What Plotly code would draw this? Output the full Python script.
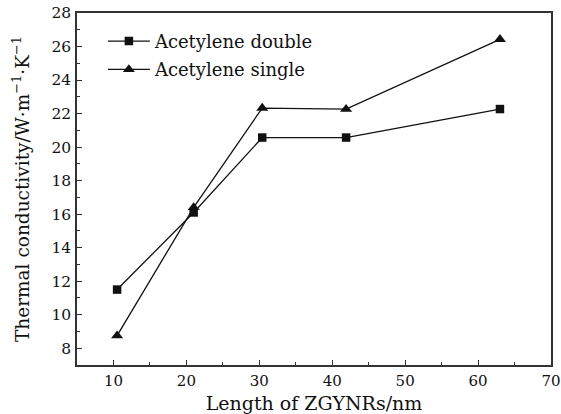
import plotly.graph_objects as go

# Data
length_double = [10.5, 21.0, 30.4, 41.9, 63.0]
kappa_double = [11.5, 16.1, 20.57, 20.57, 22.27]

length_single = [10.5, 21.0, 30.4, 41.9, 63.0]
kappa_single = [8.75, 16.4, 22.33, 22.26, 26.43]

series_names = ["Acetylene double", "Acetylene single"]

x_ticks = [10, 20, 30, 40, 50, 60, 70]
y_ticks = [8, 10, 12, 14, 16, 18, 20, 22, 24, 26, 28]

FONT = "DejaVu Serif"
INK = "#111111"
AXIS = "#333333"

fig = go.Figure()
fig.add_trace(go.Scatter(
    x=length_double, y=kappa_double, name=series_names[0],
    mode="lines+markers", legendgroup="a",
    line=dict(color=INK, width=1.3),
    marker=dict(symbol="square", size=8.5, color=INK),
))
fig.add_trace(go.Scatter(
    x=length_single, y=kappa_single, name=series_names[1],
    mode="lines+markers", legendgroup="b",
    line=dict(color=INK, width=1.3),
    marker=dict(symbol="triangle-up", size=10.5, color=INK),
))

axis_common = dict(
    showline=True, linecolor=AXIS, linewidth=1.5, mirror=True,
    ticks="inside", ticklen=5, tickwidth=1.2, tickcolor=AXIS,
    showgrid=False, zeroline=False, automargin=False,
    ticklabeloverflow="allow",
)

fig.update_xaxes(
    range=[5, 70], tickvals=x_ticks,
    minor=dict(ticks="inside", ticklen=3.5, tickwidth=1.2, tickcolor=AXIS, dtick=5, tick0=0),
    title=dict(text="Length of ZGYNRs/nm", font=dict(family=FONT, size=19, color=INK), standoff=8),
    ticklabelstandoff=1,
    tickfont=dict(family=FONT, size=15, color=INK),
    **axis_common,
)
fig.update_yaxes(
    range=[7, 28], tickvals=y_ticks,
    minor=dict(ticks="inside", ticklen=3.5, tickwidth=1.2, tickcolor=AXIS, dtick=1, tick0=0),
    title=dict(text="Thermal conductivity/W·m<sup>−1</sup>·K<sup>−1</sup>",
               font=dict(family=FONT, size=18.5, color=INK), standoff=17),
    ticklabelstandoff=1,
    tickfont=dict(family=FONT, size=15.5, color=INK),
    **axis_common,
)

fig.update_layout(
    width=561, height=414,
    margin=dict(l=77, r=10, t=13, b=49),
    paper_bgcolor="white", plot_bgcolor="white",
    font=dict(family=FONT, color=INK),
    showlegend=True,
    legend=dict(
        x=0.0546, y=0.972, xanchor="left", yanchor="top",
        bgcolor="rgba(0,0,0,0)", borderwidth=0,
        font=dict(family=FONT, size=18, color=INK),
        itemwidth=42, tracegroupgap=2,
    ),
)

fig.write_html("out.html")
